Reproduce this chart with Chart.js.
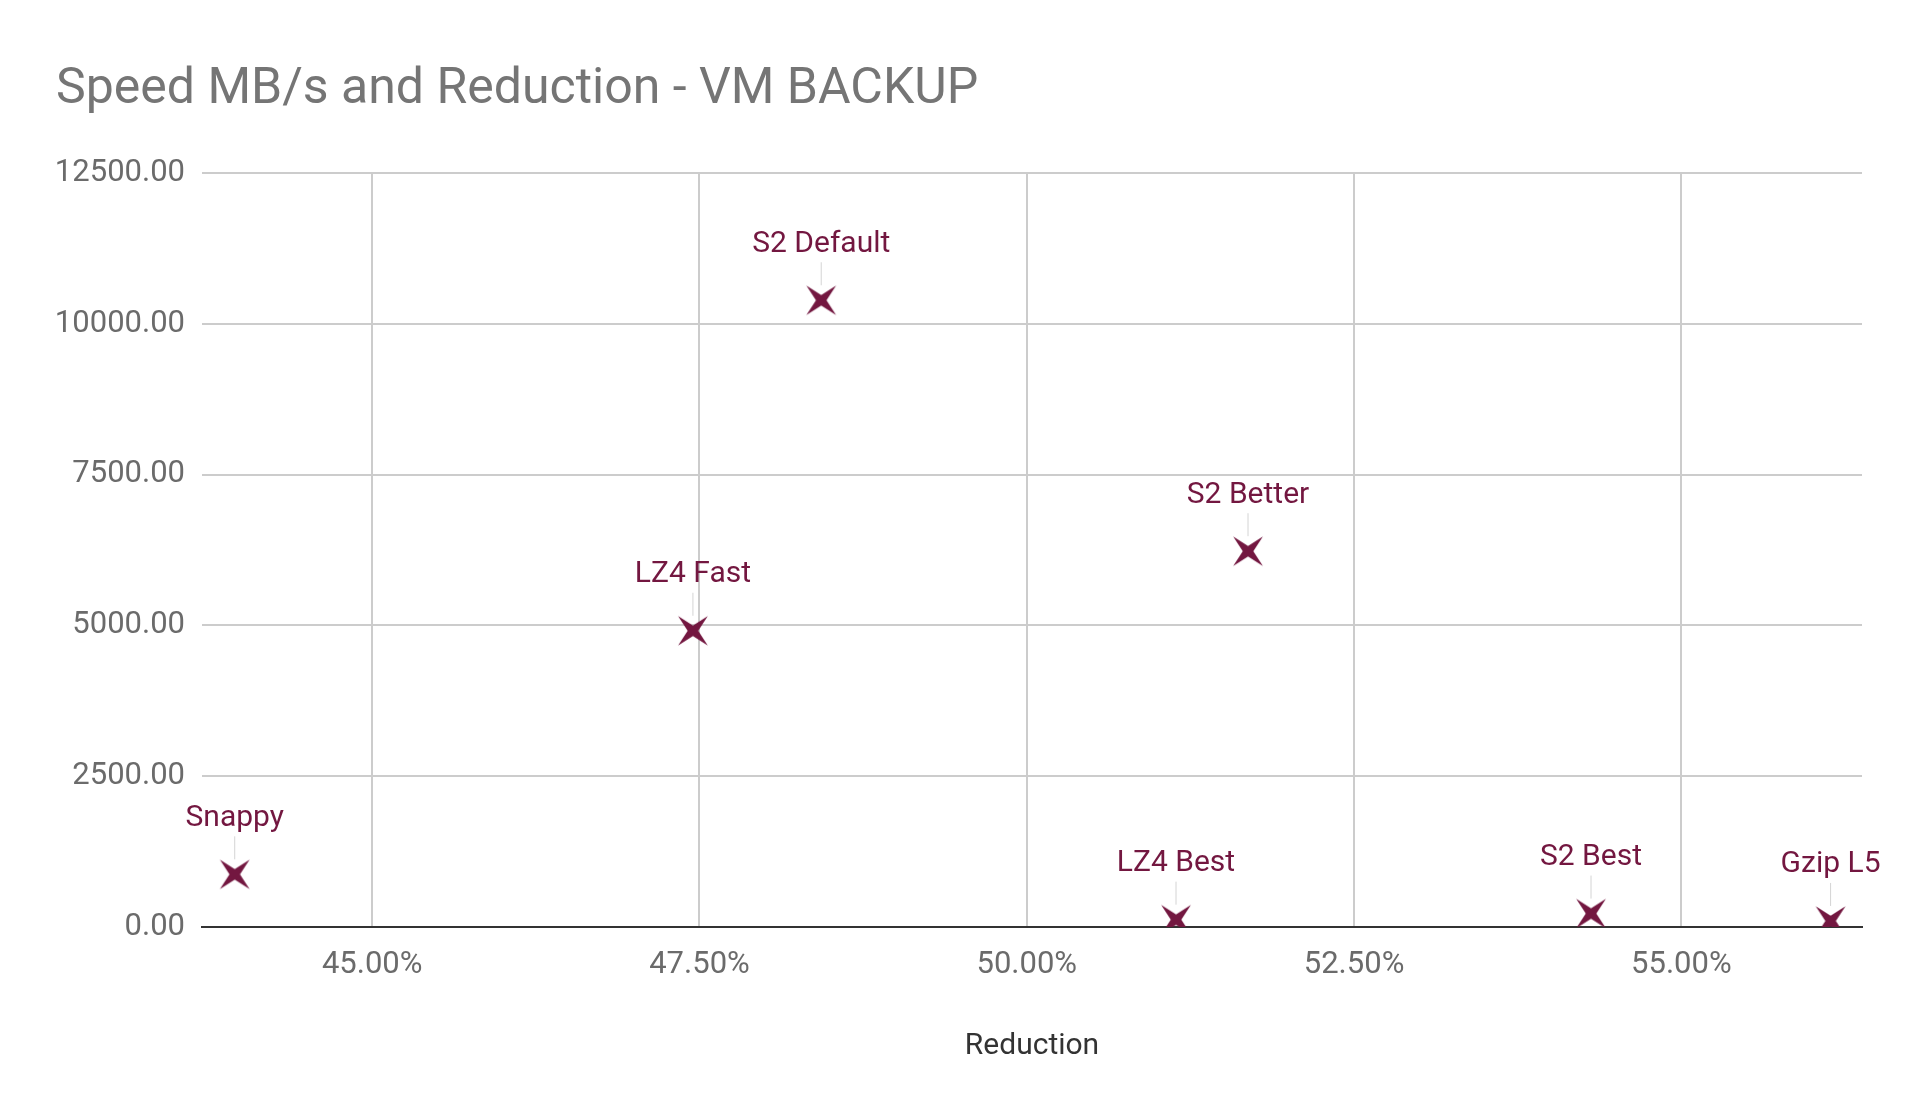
<!DOCTYPE html>
<html>
<head>
<meta charset="utf-8">
<title>Speed MB/s and Reduction - VM BACKUP</title>
<script src="https://cdn.jsdelivr.net/npm/chart.js@4.4.1/dist/chart.umd.min.js"></script>
<style>
  html, body { margin: 0; padding: 0; background: #fff; }
  #wrap { width: 1920px; height: 1118px; position: relative; }
</style>
</head>
<body>
<div id="wrap"><canvas id="speedChart"></canvas></div>
<script>
// Data
const labels = ['Snappy', 'LZ4 Fast', 'S2 Default', 'LZ4 Best', 'S2 Better', 'S2 Best', 'Gzip L5'];
const reduction = [43.95, 47.45, 48.43, 51.14, 51.69, 54.31, 56.14];   // %
const speed = [873, 4911, 10390, 122, 6230, 223, 100];                // MB/s
const xTicks = [45, 47.5, 50, 52.5, 55];
const yTicks = [0, 2500, 5000, 7500, 10000, 12500];

const markerColor = '#731740';

// 4-pointed star marker, rotated like an X
function makeStar(size, color) {
  const c = document.createElement('canvas');
  c.width = size;
  c.height = size;
  const ctx = c.getContext('2d');
  const r = size / 2, inner = size * 0.12;
  ctx.translate(r, r);
  ctx.beginPath();
  for (let i = 0; i < 8; i++) {
    const a = Math.PI / 4 + i * Math.PI / 4;
    const rad = i % 2 === 0 ? r - 1 : inner;
    ctx.lineTo(Math.cos(a) * rad, Math.sin(a) * rad);
  }
  ctx.closePath();
  ctx.fillStyle = color;
  ctx.fill();
  return c;
}

// Labels above each point with a thin leader line
const pointLabels = {
  id: 'pointLabels',
  afterDatasetsDraw(chart) {
    const ctx = chart.ctx;
    const meta = chart.getDatasetMeta(0);
    ctx.save();
    ctx.font = '30px Roboto';
    ctx.textAlign = 'center';
    ctx.textBaseline = 'middle';
    meta.data.forEach((pt, i) => {
      const ly = pt.y - 56;
      ctx.strokeStyle = '#d4d4d4';
      ctx.lineWidth = 1;
      ctx.beginPath();
      ctx.moveTo(pt.x, ly + 18);
      ctx.lineTo(pt.x, pt.y - 15);
      ctx.stroke();
      ctx.fillStyle = markerColor;
      ctx.fillText(labels[i], pt.x, ly);
    });
    ctx.restore();
  }
};

const ctx = document.getElementById('speedChart').getContext('2d');
new Chart(ctx, {
  type: 'scatter',
  data: {
    datasets: [{
      label: 'Speed',
      data: reduction.map((r, i) => ({ x: r, y: speed[i] })),
      pointStyle: makeStar(44, markerColor),
      pointRadius: 20,
      pointHoverRadius: 20,
      backgroundColor: markerColor,
      borderColor: markerColor
    }]
  },
  options: {
    responsive: true,
    maintainAspectRatio: false,
    animation: false,
    layout: {
      padding: { left: 56, right: 58, top: 0, bottom: 54 }
    },
    plugins: {
      legend: { display: false },
      tooltip: { enabled: false },
      title: {
        display: true,
        text: 'Speed MB/s and Reduction - VM BACKUP',
        align: 'start',
        color: '#757575',
        font: { family: 'Roboto', size: 50, weight: 'normal', lineHeight: 1.2 },
        padding: { top: 60, bottom: 53 }
      }
    },
    scales: {
      x: {
        type: 'linear',
        min: 43.7,
        max: 56.38,
        afterBuildTicks: scale => { scale.ticks = xTicks.map(v => ({ value: v })); },
        afterFit: scale => { scale.height = 137; },
        ticks: {
          color: '#6b6b6b',
          padding: 20,
          maxRotation: 0,
          font: { family: 'Roboto', size: 31 },
          callback: v => v.toFixed(2) + '%'
        },
        grid: { color: '#cccccc', lineWidth: 2, drawTicks: false },
        border: { display: true, color: '#333', width: 2 },
        title: {
          display: true,
          text: 'Reduction',
          color: '#333',
          font: { family: 'Roboto', size: 30, lineHeight: 1.2 },
          padding: { top: 0, bottom: 0 }
        }
      },
      y: {
        type: 'linear',
        min: 0,
        max: 12500,
        afterBuildTicks: scale => { scale.ticks = yTicks.map(v => ({ value: v })); },
        afterFit: scale => { scale.width = 146; },
        ticks: {
          color: '#6b6b6b',
          padding: 17,
          font: { family: 'Roboto', size: 31 },
          callback: v => v.toFixed(2)
        },
        grid: { color: '#cccccc', lineWidth: 2, drawTicks: false },
        border: { display: false }
      }
    }
  },
  plugins: [pointLabels]
});
</script>
</body>
</html>
